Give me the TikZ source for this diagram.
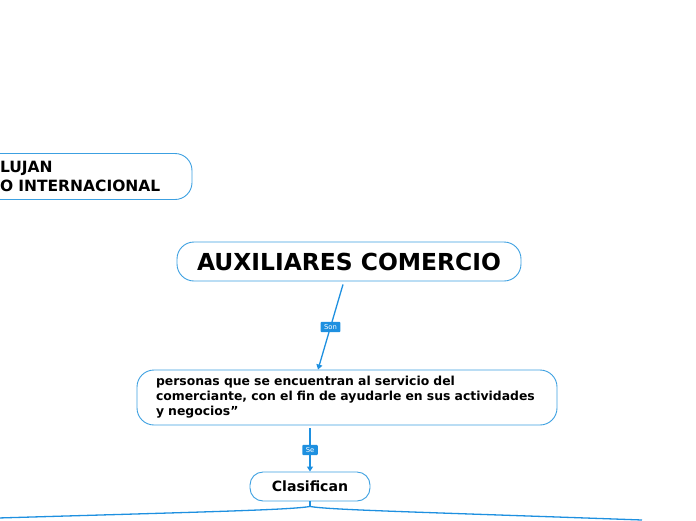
\documentclass[tikz,border=0pt]{standalone}
\usepackage{fontspec}
\setmainfont{DejaVu Sans}
\usetikzlibrary{arrows.meta}
\definecolor{boxblue}{RGB}{60,160,225}
\definecolor{linkblue}{RGB}{30,144,224}
\tikzset{
  topicbox/.style={draw=boxblue, line width=0.9pt, fill=white, rounded corners=17pt, font=\bfseries},
  link/.style={draw=linkblue, line width=1.3pt},
  linkarrow/.style={link, -{Triangle[length=5pt,width=6pt]}},
  tag/.style={fill=linkblue, text=white, font=\fontsize{6.8}{8}\selectfont, inner xsep=3.5pt, inner ysep=2.6pt, rounded corners=1pt}
}
\begin{document}
\begin{tikzpicture}[x=1pt,y=-1pt]
\useasboundingbox (0,0) rectangle (696,520);
\node[topicbox, minimum width=222pt, minimum height=46pt, inner xsep=30pt, text width=162pt, align=left, font=\bfseries\fontsize{15.5}{19}\selectfont] (intro) at (81,176.5) {LUJAN\\O INTERNACIONAL};
\node[topicbox, minimum width=344pt, minimum height=39pt, font=\bfseries\fontsize{23.4}{26}\selectfont] (aux) at (349,261.5) {AUXILIARES COMERCIO};
\node[topicbox, minimum width=420pt, minimum height=55pt, inner xsep=19pt, text width=382pt, align=left, font=\bfseries\fontsize{12.4}{15}\selectfont] (pers) at (347,397.5) {personas que se encuentran al servicio del\\comerciante, con el fin de ayudarle en sus actividades\\y negocios”};
\node[topicbox, rounded corners=13pt, minimum width=120pt, minimum height=29pt, font=\bfseries\fontsize{14.1}{17}\selectfont] (clas) at (310,486.5) {Clasifican};
\draw[linkarrow] ([xshift=-6pt,yshift=-3pt]aux.south) -- node[tag] (son) {Son} ([xshift=-29pt]pers.north);
\draw[linkarrow] ([xshift=-37pt,yshift=-3pt]pers.south) -- node[tag] (se) {Se} (clas.north);
\coordinate (fork) at ([yshift=-5pt]clas.south);
\coordinate (leftend) at (-2,518);
\coordinate (rightend) at (642,520);
\draw[link] (clas.south) -- (fork);
\draw[link] (fork) .. controls (290,510) and (200,512) .. (leftend);
\draw[link] (fork) .. controls (330,510) and (420,512) .. (rightend);
\end{tikzpicture}
\end{document}
